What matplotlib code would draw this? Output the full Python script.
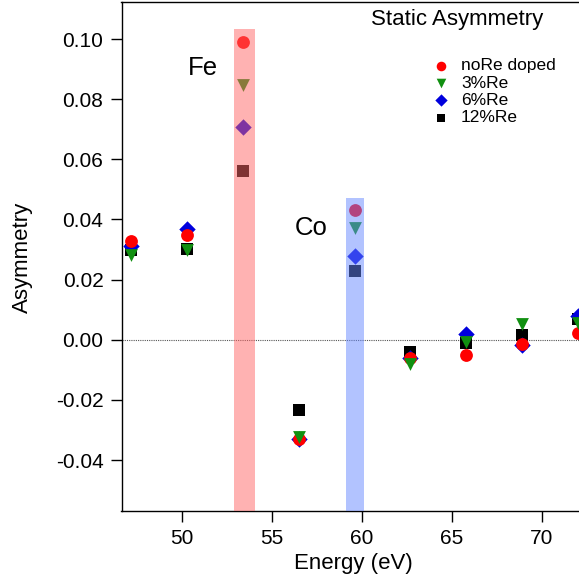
import matplotlib
matplotlib.use("Agg")
import matplotlib.pyplot as plt
from matplotlib.patches import Rectangle

plt.rcParams['font.family'] = ['Liberation Sans', 'DejaVu Sans']

energy = [47.2, 50.3, 53.4, 56.5, 59.6, 62.7, 65.8, 68.9, 72.0]
noRe = [0.0329, 0.0349, 0.0990, -0.0329, 0.0432, -0.0060, -0.0050, -0.0013, 0.0023]
re3 = [0.0282, 0.0300, 0.0847, -0.0322, 0.0372, -0.0080, -0.0007, 0.0053, 0.0057]
re6 = [0.0312, 0.0369, 0.0708, -0.0329, 0.0279, -0.0060, 0.0020, -0.0016, 0.0080]
re12 = [0.0300, 0.0302, 0.0561, -0.0233, 0.0229, -0.0040, -0.0010, 0.0017, 0.0070]

fe_band = (52.9, 54.05, 0.1033)
co_band = (59.1, 60.1, 0.0472)

W, H = 579, 578
fig = plt.figure(figsize=(W / 100, H / 100), dpi=100)
ax = fig.add_axes([121.5 / W, 1 - 510.7 / H, 1.0, (510.7 - 2) / H])
ax.set_xlim(46.65, 46.65 + W / 18)
ax.set_ylim(-0.0568, 0.1123)

ax.axhline(0, color='#555555', lw=0.8, ls=(0, (1, 1)), zorder=0.5)

ax.scatter(energy, re12, marker='s', s=70, color='black', zorder=2, label='12%Re', linewidths=0)
ax.scatter(energy, re6, marker='D', s=70, color='#0000dd', zorder=3, label='6%Re', linewidths=0)
ax.scatter(energy, noRe, marker='o', s=85, color='#ff0000', zorder=4, label='noRe doped', linewidths=0)
ax.scatter(energy, re3, marker='v', s=85, color='#119011', zorder=5, label='3%Re', linewidths=0)

ymin = ax.get_ylim()[0]
ax.add_patch(Rectangle((fe_band[0], ymin), fe_band[1] - fe_band[0], fe_band[2] - ymin,
                       facecolor='#ff6666', alpha=0.5, lw=0, zorder=6))
ax.add_patch(Rectangle((co_band[0], ymin), co_band[1] - co_band[0], co_band[2] - ymin,
                       facecolor='#6688ff', alpha=0.5, lw=0, zorder=6))

ax.text(51.18, 0.0903, 'Fe', fontsize=18.5, ha='center', va='center')
ax.text(57.2, 0.0371, 'Co', fontsize=18.5, ha='center', va='center')
ax.text(65.29, 0.1065, 'Static Asymmetry', fontsize=16, ha='center', va='center')

handles, labels = ax.get_legend_handles_labels()
order = [2, 3, 1, 0]
ax.legend([handles[i] for i in order], [labels[i] for i in order],
          loc='upper left', bbox_to_anchor=(428 / W, 1 - 58 / H),
          bbox_transform=fig.transFigure, frameon=False,
          fontsize=12.5, handletextpad=0.4, labelspacing=0.13, markerscale=0.75,
          borderaxespad=0, borderpad=0, handlelength=1.5)

ax.set_xticks([50, 55, 60, 65, 70])
ax.set_yticks([-0.04, -0.02, 0.0, 0.02, 0.04, 0.06, 0.08, 0.10])
ax.set_yticklabels(['-0.04', '-0.02', '0.00', '0.02', '0.04', '0.06', '0.08', '0.10'])
ax.tick_params(direction='out', length=8, width=1, labelsize=15, pad=5)
for sp in ax.spines.values():
    sp.set_linewidth(1)

ax.set_xlabel('Energy (eV)', fontsize=16)
ax.set_ylabel('Asymmetry', fontsize=16)
ax.xaxis.set_label_coords((353 - 121.5) / W, -(563 - 510.7) / (510.7 - 2), transform=ax.transAxes)
ax.xaxis.label.set_va('center')
ax.yaxis.set_label_coords(-(121.5 - 22) / W, (510.7 - 257) / (510.7 - 2), transform=ax.transAxes)
ax.yaxis.label.set_va('center')

fig.savefig('out.png', dpi=100)
